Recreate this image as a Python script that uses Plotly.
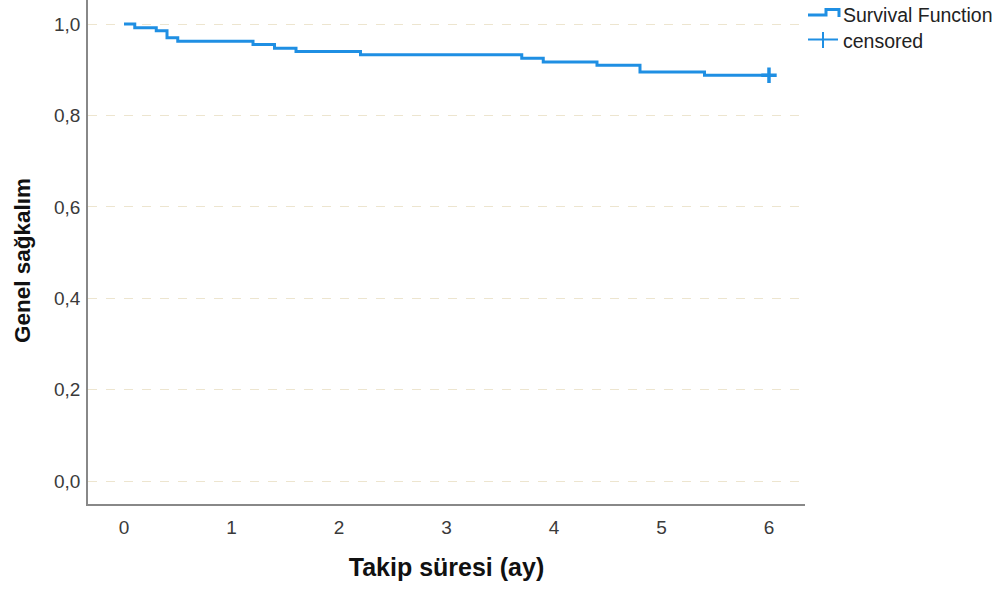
import plotly.graph_objects as go

# Kaplan-Meier step data (time in months, survival)
event_times = [0.0, 0.1, 0.3, 0.4, 0.5, 1.2, 1.4, 1.6, 2.2, 3.7, 3.9, 4.4, 4.8, 5.4, 6.0]
survival = [1.000, 0.992, 0.985, 0.970, 0.962, 0.955, 0.947, 0.940, 0.933, 0.925, 0.917, 0.910, 0.895, 0.888, 0.888]
censor_times = [6.0]
censor_surv = [0.888]

x_ticks = [0, 1, 2, 3, 4, 5, 6]
y_ticks = [0.0, 0.2, 0.4, 0.6, 0.8, 1.0]

BLUE = "#1f8fe3"
FONT = "Liberation Sans, Arial, sans-serif"

fig = go.Figure()
fig.add_trace(go.Scatter(x=event_times, y=survival, mode="lines", line=dict(color=BLUE, width=3, shape="hv"),
                         name="Survival Function", showlegend=False, hoverinfo="skip"))
fig.add_trace(go.Scatter(x=censor_times, y=censor_surv, mode="markers",
                         marker=dict(symbol="cross-thin", size=11, line=dict(color=BLUE, width=3.5)),
                         name="censored", showlegend=False))

# plot area pixel geometry
L, R, T, B = 88, 805, 0, 504
W, H = 1002, 589
def px(x):
    return (x - L) / (R - L)
def py(y):
    return (B - y) / (B - T)

shapes = []
# legend icon: step
step_pts = [(808, 15), (826, 15), (826, 9.5), (839, 9.5), (839, 17)]
path = "M " + " L ".join(f"{px(a)},{py(b)}" for a, b in step_pts)
shapes.append(dict(type="path", xref="paper", yref="paper", path=path, line=dict(color=BLUE, width=3)))
# legend icon: cross
shapes.append(dict(type="line", xref="paper", yref="paper", x0=px(808), x1=px(838), y0=py(39.5), y1=py(39.5), line=dict(color=BLUE, width=2)))
shapes.append(dict(type="line", xref="paper", yref="paper", x0=px(823), x1=px(823), y0=py(32), y1=py(48), line=dict(color=BLUE, width=2)))

annotations = [
    dict(text="Survival Function", xref="paper", yref="paper", x=px(841), y=py(15), xanchor="left", yanchor="middle",
         showarrow=False, font=dict(family=FONT, size=19.5, color="#222")),
    dict(text="censored", xref="paper", yref="paper", x=px(841), y=py(41), xanchor="left", yanchor="middle",
         showarrow=False, font=dict(family=FONT, size=19.5, color="#222")),
    dict(text="<b>Genel sağkalım</b>", xref="paper", yref="paper", x=px(23), y=py(261), xanchor="center", yanchor="middle",
         textangle=-90, showarrow=False, font=dict(family=FONT, size=22.5, color="#111")),
]

fig.update_layout(
    width=W, height=H,
    margin=dict(l=L, r=W - R, t=T, b=H - B),
    plot_bgcolor="white", paper_bgcolor="white",
    separators=",.",
    showlegend=False,
    shapes=shapes,
    annotations=annotations,
    xaxis=dict(range=[-0.335, 6.335], tickvals=x_ticks, showgrid=False, zeroline=False,
               showline=True, linecolor="#888", linewidth=1.5,
               ticks="outside", ticklen=5, tickcolor="rgba(0,0,0,0)",
               tickfont=dict(family=FONT, size=19, color="#3a3a3a"),
               title=dict(text="<b>Takip süresi (ay)</b>", font=dict(family=FONT, size=25, color="#111"), standoff=22)),
    yaxis=dict(range=[-0.05, 1.0525], tickvals=y_ticks, tickformat=".1f",
               showgrid=True, gridcolor="#ede5cf", griddash="dash", gridwidth=1, zeroline=False,
               showline=True, linecolor="#888", linewidth=1.5,
               ticks="outside", ticklen=2, tickcolor="rgba(0,0,0,0)",
               tickfont=dict(family=FONT, size=19, color="#3a3a3a")),
)

fig.write_html("out.html", config={"displayModeBar": False}, post_script="document.body.style.margin='0';")
